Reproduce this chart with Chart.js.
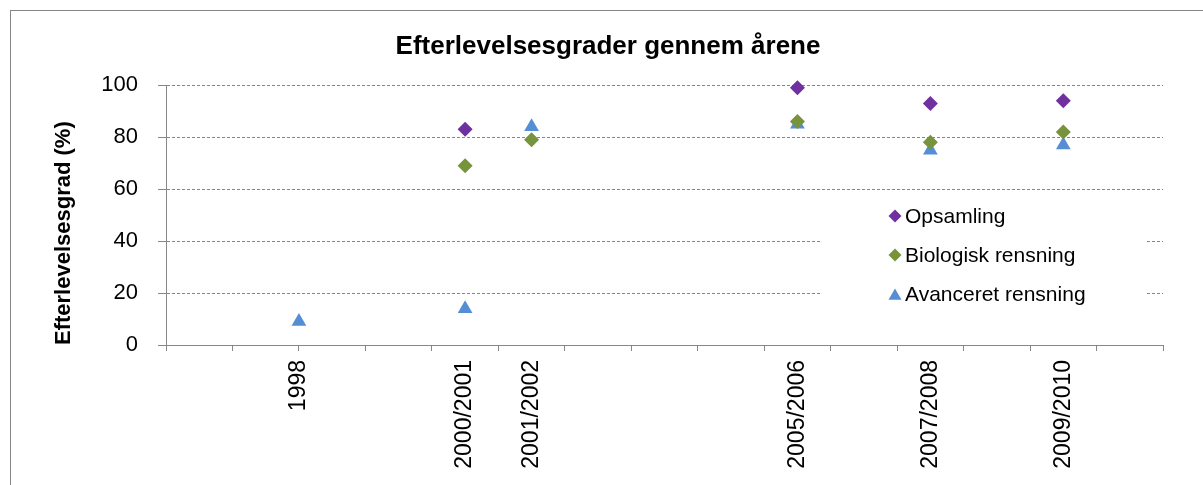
<!DOCTYPE html>
<html>
<head>
<meta charset="utf-8">
<script src="https://cdn.jsdelivr.net/npm/chart.js@4/dist/chart.umd.min.js"></script>
<style>
  html, body { margin: 0; padding: 0; background: #fff; }
</style>
</head>
<body>
<canvas id="myChart" width="1203" height="485"></canvas>
<script>
// data
const periods = ["1998", "2000/2001", "2001/2002", "2005/2006", "2007/2008", "2009/2010"];
const opsamling = [null, 83, null, 99, 93, 94];
const biologisk = [null, 69, 79, 86, 78, 82];
const avanceret = [9, 14, 84, 85, 75, 77];
const yTicks = [0, 20, 40, 60, 80, 100];
const yearFrom = 1996;
const yearTo = 2011;

const seriesNames = ["Opsamling", "Biologisk rensning", "Avanceret rensning"];
const seriesColors = ["rgb(112,48,160)", "rgb(119,147,60)", "rgb(85,142,213)"];
const seriesMarkers = ["rectRot", "rectRot", "triangle"];

const FONT = "'Liberation Sans', Arial, sans-serif";
const GRAY = "#868686";

// a period like "2000/2001" sits halfway between its two years
const periodX = periods.map(p => {
  const ys = p.split("/").map(Number);
  return ys.reduce((a, b) => a + b, 0) / ys.length;
});

function points(vals) {
  const out = [];
  vals.forEach((v, i) => {
    if (v !== null) out.push({ x: periodX[i], y: v });
  });
  return out;
}

function labelAt(value) {
  const i = periodX.findIndex(x => Math.abs(x - value) < 0.01);
  return i >= 0 ? periods[i] : "";
}

const halfSteps = [];
for (let v = yearFrom; v <= yearTo; v += 0.5) halfSteps.push(v);

const frame = {
  id: "frame",
  beforeDraw(chart) {
    const ctx = chart.ctx;
    ctx.save();
    ctx.fillStyle = "#fff";
    ctx.fillRect(0, 0, chart.width, chart.height);
    ctx.strokeStyle = GRAY;
    ctx.lineWidth = 1;
    ctx.strokeRect(10.5, 10.5, chart.width + 20, chart.height + 20);
    ctx.restore();
  }
};

function marker(ctx, kind, x, y, r) {
  ctx.beginPath();
  if (kind === "triangle") {
    ctx.moveTo(x, y - r);
    ctx.lineTo(x + r * 0.866, y + r / 2);
    ctx.lineTo(x - r * 0.866, y + r / 2);
  } else {
    ctx.moveTo(x - r, y);
    ctx.lineTo(x, y - r);
    ctx.lineTo(x + r, y);
    ctx.lineTo(x, y + r);
  }
  ctx.closePath();
  ctx.fill();
}

// legend sits inside the plot, on a white box that hides the grid behind it
const insideLegend = {
  id: "insideLegend",
  afterDraw(chart) {
    const ctx = chart.ctx;
    ctx.save();
    ctx.fillStyle = "#fff";
    ctx.fillRect(822, 196, 325, 116);
    ctx.font = "21px " + FONT;
    ctx.textBaseline = "middle";
    chart.data.datasets.forEach((ds, i) => {
      const y = 216 + i * 39;
      ctx.fillStyle = ds.backgroundColor;
      marker(ctx, ds.pointStyle, 895, ds.pointStyle === "triangle" ? y + 2 : y, ds.pointStyle === "triangle" ? 7.5 : 6.5);
      ctx.fillStyle = "#000";
      ctx.fillText(ds.label, 905, y + 1);
    });
    ctx.restore();
  }
};

const datasets = [opsamling, biologisk, avanceret].map((vals, i) => ({
  label: seriesNames[i],
  data: points(vals),
  pointStyle: seriesMarkers[i],
  backgroundColor: seriesColors[i],
  borderColor: seriesColors[i],
  pointRadius: seriesMarkers[i] === "triangle" ? 8.5 : 7.5,
  pointBorderWidth: 0,
  showLine: false,
  clip: false
}));

const config = {
  type: "scatter",
  data: { datasets: datasets },
  options: {
    responsive: false,
    animation: false,
    layout: { padding: { left: 53, right: 40, top: 0, bottom: 0 } },
    plugins: {
      legend: { display: false },
      tooltip: { enabled: false },
      title: {
        display: true,
        text: "Efterlevelsesgrader gennem årene",
        color: "#000",
        font: { family: FONT, size: 26, weight: "bold" },
        padding: { top: 31, bottom: 23 }
      }
    },
    scales: {
      x: {
        type: "linear",
        min: yearFrom,
        max: yearTo,
        afterBuildTicks: s => { s.ticks = halfSteps.map(v => ({ value: v })); },
        afterFit: s => { s.height = 140; },
        ticks: {
          autoSkip: false,
          minRotation: 90,
          maxRotation: 90,
          padding: 9,
          color: "#000",
          font: { family: FONT, size: 23 },
          callback: v => labelAt(v)
        },
        grid: {
          drawOnChartArea: false,
          tickLength: 6,
          tickColor: c => (c.tick && Number.isInteger(c.tick.value)) ? GRAY : "rgba(0,0,0,0)"
        },
        border: { color: GRAY, width: 1 }
      },
      y: {
        min: 0,
        max: 100,
        afterBuildTicks: s => { s.ticks = yTicks.map(v => ({ value: v })); },
        afterFit: s => { s.width = 113; },
        ticks: {
          padding: 20,
          color: "#000",
          font: { family: FONT, size: 22 }
        },
        grid: {
          color: GRAY,
          tickColor: GRAY,
          tickLength: 8,
          tickBorderDash: []
        },
        border: { color: GRAY, width: 1, dash: [3, 2] },
        title: {
          display: true,
          text: "Efterlevelsesgrad (%)",
          align: "start",
          color: "#000",
          font: { family: FONT, size: 22, weight: "bold", lineHeight: 1 },
          padding: 0
        }
      }
    }
  },
  plugins: [frame, insideLegend]
};

new Chart(document.getElementById("myChart"), config);
</script>
</body>
</html>
